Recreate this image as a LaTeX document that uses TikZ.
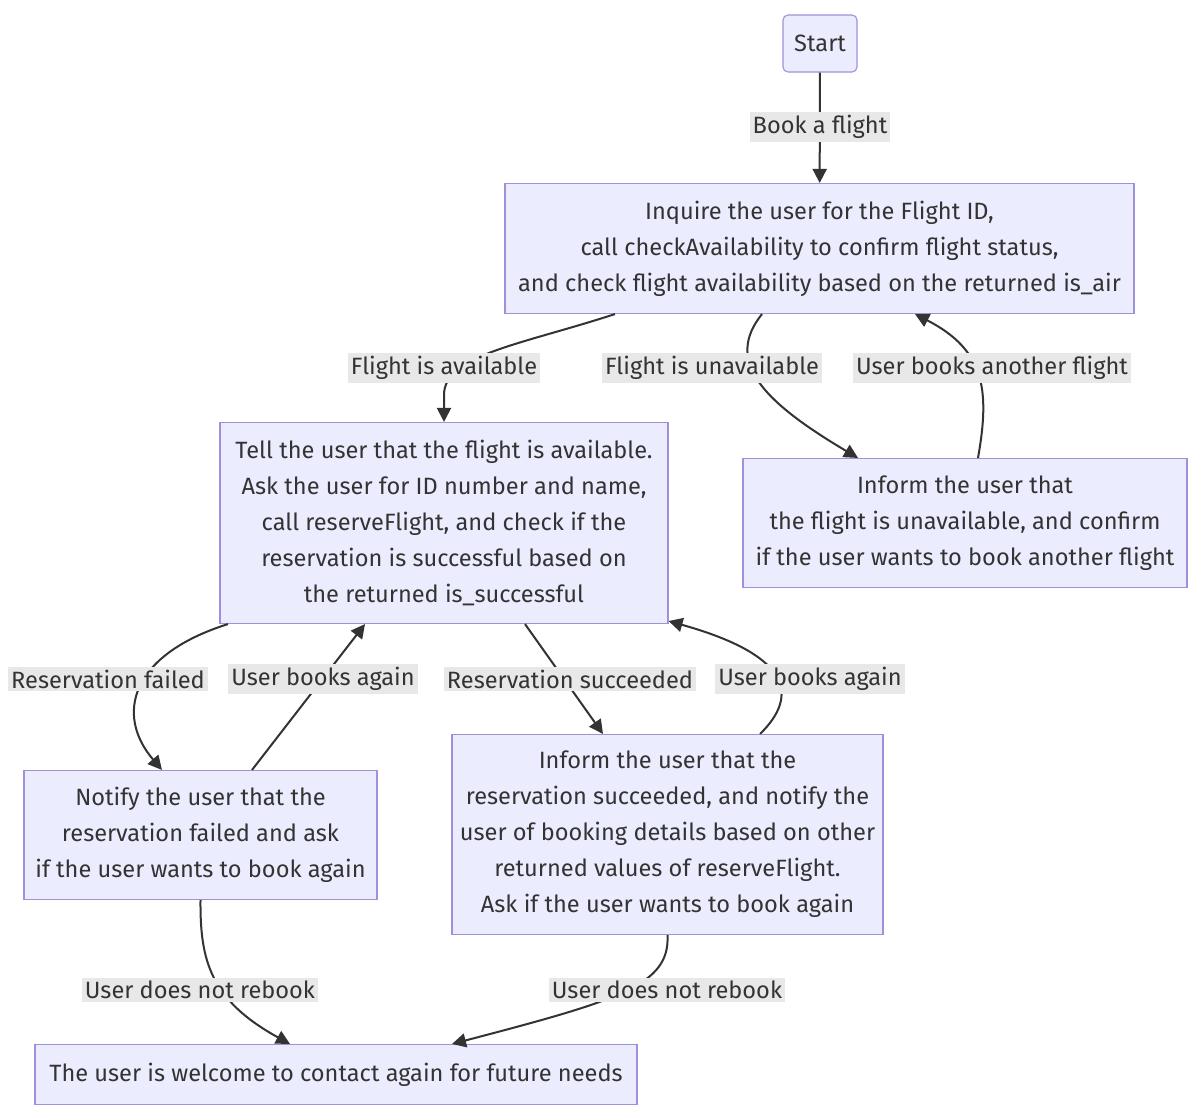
\documentclass[tikz,border=0pt]{standalone}
\usepackage{fontspec}
\setmainfont{Fira Sans}
\usetikzlibrary{arrows.meta}
\definecolor{boxfill}{HTML}{ECECFF}
\definecolor{boxline}{HTML}{A090DA}
\definecolor{ink}{HTML}{333333}
\definecolor{lblfill}{HTML}{E8E8E8}

\begin{document}
\begin{tikzpicture}[x=0.5pt, y=-0.5pt,
    stepbox/.style={fill=boxfill, draw=boxline, line width=0.55pt, align=center, inner sep=0pt, text=ink, font=\fontsize{11.8}{18}\selectfont},
    elabel/.style={fill=lblfill, inner sep=1.5pt, text=ink, font=\fontsize{11.8}{14}\selectfont},
    flow/.style={draw=ink, line width=1pt, -{Triangle[length=7pt,width=7pt]}}]
    \useasboundingbox[fill=white] (0,0) rectangle (1202,1114);

    % steps
    \node(start) at(820, 43.5) [stepbox, rounded corners=2.5pt, minimum width=37pt, minimum height=28.5pt] {Start};
    \node(inq) at(819.5, 248.5) [stepbox, minimum width=314.5pt, minimum height=65pt]
        {Inquire the user for the Flight ID,\\call checkAvailability to confirm flight status,\\and check flight availability based on the returned is\_air};
    \node(tell) at(444, 523) [stepbox, minimum width=224pt, minimum height=100.5pt]
        {Tell the user that the flight is available.\\Ask the user for ID number and name,\\call reserveFlight, and check if the\\reservation is successful based on\\the returned is\_successful};
    \node(unavail) at(965, 523) [stepbox, minimum width=222pt, minimum height=64.5pt]
        {Inform the user that\\the flight is unavailable, and confirm\\if the user wants to book another flight};
    \node(failed) at(200.5, 835) [stepbox, minimum width=176.5pt, minimum height=64.5pt]
        {Notify the user that the\\reservation failed and ask\\if the user wants to book again};
    \node(success) at(667.5, 834.5) [stepbox, minimum width=215.5pt, minimum height=100pt]
        {Inform the user that the\\reservation succeeded, and notify the\\user of booking details based on other\\returned values of reserveFlight.\\Ask if the user wants to book again};
    \node(welcome) at(336, 1074.5) [stepbox, minimum width=301pt, minimum height=30pt]
        {The user is welcome to contact again for future needs};

    % connectors
    \draw[flow] (start) -- (inq);
    \draw[flow] ([xshift=-102.25pt]inq.south) .. controls (520,345) and (444,355) .. (444,395) -- (tell.north);
    \draw[flow] ([xshift=-28.75pt]inq.south) .. controls (725,360) and (760,400) .. ([xshift=-53.5pt]unavail.north);
    \draw[flow] ([xshift=6.5pt]unavail.north) .. controls (990,390) and (985,350) .. ([xshift=47.75pt]inq.south);
    \draw[flow] ([xshift=-108pt]tell.south) .. controls (130,655) and (115,715) .. ([xshift=-19.25pt]failed.north);
    \draw[flow] ([xshift=25.75pt]failed.north) -- ([xshift=-39.5pt]tell.south);
    \draw[flow] ([xshift=40.5pt]tell.south) -- ([xshift=-32.25pt]success.north);
    \draw[flow] ([xshift=46.25pt]success.north) .. controls (800,695) and (790,655) .. ([yshift=1.5pt]tell.south east);
    \draw[flow] (failed.south) .. controls (200,960) and (210,1000) .. ([xshift=-23pt]welcome.north);
    \draw[flow] (success.south) .. controls (670,985) and (620,1000) .. ([xshift=58pt]welcome.north);

    % edge labels
    \node(l_book) at(820, 127) [elabel] {Book a flight};
    \node(l_avail) at(444, 368) [elabel] {Flight is available};
    \node(l_unavail) at(712, 368) [elabel] {Flight is unavailable};
    \node(l_another) at(992, 368) [elabel] {User books another flight};
    \node(l_failed) at(108, 679) [elabel] {Reservation failed};
    \node(l_again1) at(323, 679) [elabel] {User books again};
    \node(l_succ) at(570, 679) [elabel] {Reservation succeeded};
    \node(l_again2) at(810, 679) [elabel] {User books again};
    \node(l_norebook1) at(200, 990) [elabel] {User does not rebook};
    \node(l_norebook2) at(667, 990) [elabel] {User does not rebook};
\end{tikzpicture}
\end{document}
